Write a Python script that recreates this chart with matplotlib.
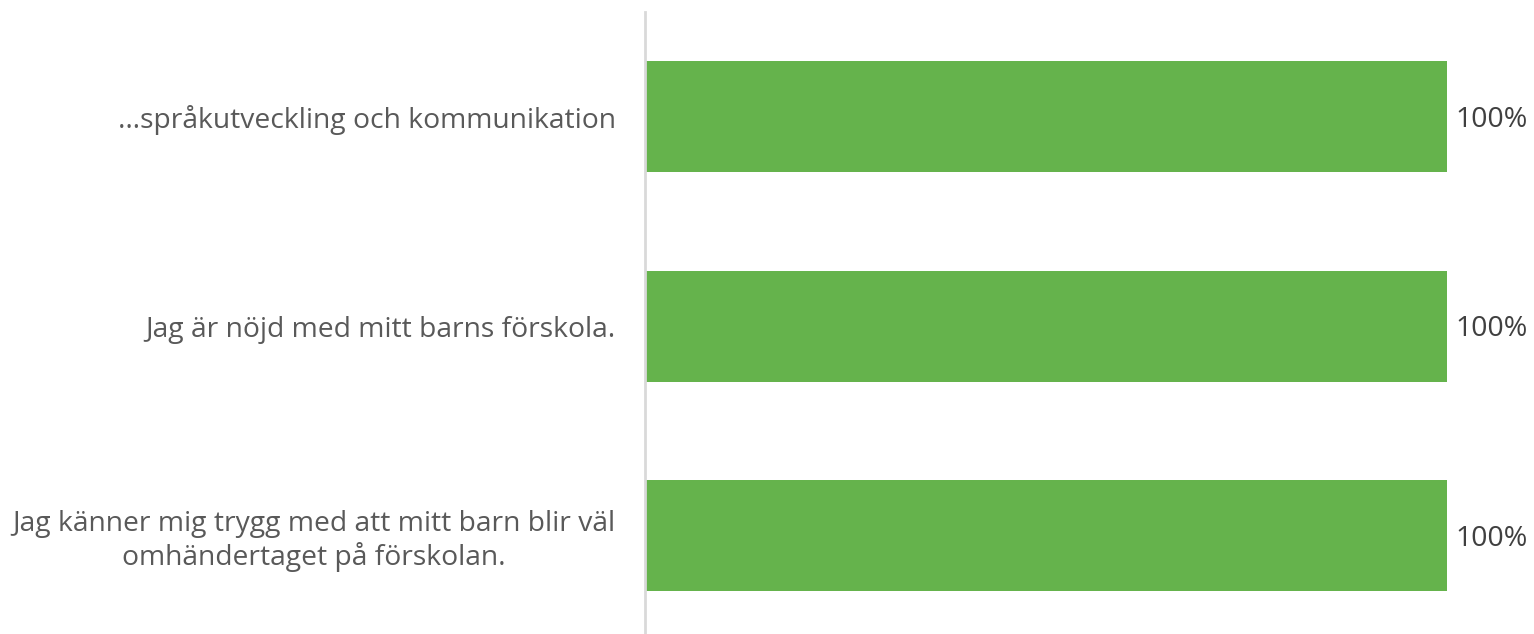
import matplotlib
matplotlib.use('Agg')
import matplotlib.pyplot as plt

plt.rcParams['font.family'] = ['Open Sans', 'DejaVu Sans']

# data
categories = ['…språkutveckling och kommunikation',
              'Jag är nöjd med mitt barns förskola.',
              'Jag känner mig trygg med att mitt barn blir väl\nomhändertaget på förskolan.']
values = [1.0, 1.0, 1.0]
value_labels = ['100%', '100%', '100%']

W, H = 1534, 634
fig = plt.figure(figsize=(W / 100, H / 100), dpi=100)
ax = fig.add_axes([645 / W, 0, (1447 - 645) / W, (634 - 12) / H])

pos = list(range(len(categories)))
ax.barh(pos, values, height=0.53, color='#65B34C')
ax.set_xlim(0, 1)
ax.set_ylim(2.47, -0.5)

for p, v, lab in zip(pos, values, value_labels):
    ax.text(v + 0.01, p + 0.015, lab, va='center', ha='left', fontsize=20.5, color='#404040')

ax.set_yticks(pos)
ax.set_yticklabels(categories, fontsize=20.3, color='#595959', linespacing=1.15,
                   multialignment='center')
ax.tick_params(axis='y', length=0, pad=21)
ax.set_xticks([])
for s in ['top', 'right', 'bottom']:
    ax.spines[s].set_visible(False)
ax.spines['left'].set_color('#D9D9D9')
ax.spines['left'].set_linewidth(2)

fig.savefig('out.png', dpi=100)
